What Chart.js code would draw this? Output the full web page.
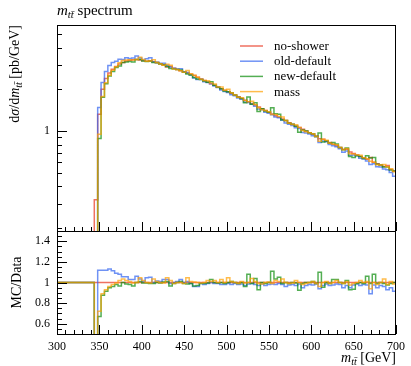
<!DOCTYPE html>
<html>
<head>
<meta charset="utf-8">
<script src="https://cdn.jsdelivr.net/npm/chart.js@4.4.1/dist/chart.umd.min.js"></script>
<style>
  html, body { margin: 0; padding: 0; background: #fff; }
  #c { display: block; }
</style>
</head>
<body>
<canvas id="c" width="411" height="366"></canvas>
<script>
// histogram binning: 4 GeV bins, first filled bin starts at 344 GeV
const xMin = 300, xMax = 700;
const binLo = 344, binW = 4;

const xTickLabels = [300, 350, 400, 450, 500, 550, 600, 650, 700];
const yTickLabels = [1];
const ratioTickLabels = [0.6, 0.8, 1, 1.2, 1.4];

// d sigma / d m_tt [pb/GeV] for the reference (no-shower)
const noShower = [
  0.32, 1.32, 2.0, 2.4, 2.63, 2.8, 2.93, 3.05, 3.12, 3.2,
  3.24, 3.27, 3.28, 3.26, 3.22, 3.19, 3.22, 3.16, 3.11, 3.06,
  3.0, 2.9, 2.93, 2.84, 2.78, 2.73, 2.68, 2.62, 2.57, 2.52,
  2.45, 2.38, 2.32, 2.26, 2.2, 2.14, 2.08, 2.02, 1.97, 1.92,
  1.87, 1.82, 1.77, 1.72, 1.67, 1.63, 1.58, 1.54, 1.49, 1.45,
  1.41, 1.37, 1.33, 1.29, 1.26, 1.22, 1.19, 1.15, 1.12, 1.09,
  1.06, 1.03, 1.0, 0.974, 0.948, 0.922, 0.88, 0.873, 0.849, 0.826,
  0.804, 0.782, 0.761, 0.74, 0.74, 0.705, 0.689, 0.672, 0.656, 0.641,
  0.625, 0.645, 0.596, 0.582, 0.568, 0.555, 0.565, 0.529, 0.516
];

// MC / Data ratios
const oldDefaultRatio = [
  0, 1.12, 1.12, 1.12, 1.13, 1.115, 1.09, 1.08, 1.055, 1.055,
  1.03, 1.03, 1.06, 1.035, 1.01, 1.045, 1.05, 1.0, 1.015, 1.01,
  1.03, 1.03, 0.99, 1.0, 1.01, 1.03, 1.0, 1.01, 0.99, 0.96,
  0.96, 0.99, 0.98, 0.99, 1.0, 0.99, 0.99, 0.98, 0.98, 0.99,
  0.98, 0.99, 0.98, 0.985, 0.97, 0.985, 0.99, 0.98, 0.97, 0.985,
  0.97, 0.98, 0.985, 0.98, 0.99, 0.98, 0.96, 0.975, 0.98, 0.97,
  0.985, 0.95, 0.97, 0.98, 0.975, 0.985, 0.94, 0.97, 0.985, 0.97,
  0.975, 0.985, 0.98, 0.95, 0.97, 0.95, 0.975, 0.985, 0.97, 0.98,
  0.975, 0.89, 0.975, 0.95, 0.97, 0.96, 0.93, 0.95, 0.915
];
const newDefaultRatio = [
  0, 0.67, 0.876, 0.915, 0.95, 0.96, 0.98, 0.965, 1.0, 0.985,
  0.98, 0.965, 1.0, 1.01, 0.995, 0.995, 0.99, 0.99, 1.0, 0.995,
  1.005, 1.01, 0.965, 0.99, 1.0, 1.01, 0.99, 0.985, 0.99, 0.965,
  0.97, 0.99, 0.99, 0.995, 1.03, 1.0, 0.995, 1.0, 0.99, 1.0,
  1.01, 1.0, 0.99, 1.0, 0.96, 1.08, 0.99, 1.04, 0.93, 1.0,
  0.99, 1.0, 1.11, 1.035, 1.05, 0.99, 1.0, 0.99, 1.0, 0.995,
  0.925, 0.99, 1.0, 1.0, 1.01, 0.99, 1.1, 0.955, 1.0, 0.99,
  1.03, 1.03, 1.0, 0.99, 1.02, 0.93, 0.935, 0.99, 1.0, 0.99,
  1.06, 0.99, 1.08, 0.99, 1.0, 0.99, 0.975, 0.99, 1.0
];
const massRatio = [
  0, 0.72, 0.89, 0.93, 0.96, 0.98, 0.995, 1.02, 1.035, 1.02,
  1.01, 0.995, 1.0, 1.045, 1.02, 1.0, 0.995, 1.035, 1.01, 1.0,
  0.995, 1.045, 1.02, 0.99, 1.0, 1.0, 0.99, 1.045, 1.01, 1.005,
  1.0, 0.995, 1.0, 1.02, 1.01, 1.02, 1.0, 1.03, 1.0, 1.045,
  1.01, 1.0, 0.99, 1.01, 0.995, 1.0, 1.04, 1.01, 0.99, 0.985,
  1.0, 1.005, 0.99, 1.02, 1.01, 1.035, 1.0, 0.99, 0.995, 1.02,
  1.0, 0.98, 0.99, 1.0, 1.01, 0.99, 0.96, 1.0, 1.01, 0.99,
  1.0, 1.02, 1.0, 0.99, 1.01, 0.975, 0.99, 1.0, 1.02, 1.0,
  1.01, 0.94, 1.0, 0.98, 1.0, 1.035, 0.98, 1.01, 0.985
];

const FONT = "'Liberation Serif', 'DejaVu Serif', serif";

const series = [
  { label: "no-shower",   color: "rgba(232,52,30,0.7)",  ratio: null,            order: 3 },
  { label: "old-default", color: "rgba(50,100,240,0.7)", ratio: oldDefaultRatio, order: 2 },
  { label: "new-default", color: "rgba(10,140,10,0.7)",  ratio: newDefaultRatio, order: 1 },
  { label: "mass",        color: "rgba(255,160,0,0.7)",  ratio: massRatio,       order: 0 }
];

// step points: each value holds from its bin's low edge to the next one
function topPoints(vals) {
  const pts = [{ x: binLo, y: 1e-3 }];
  vals.forEach((v, i) => pts.push({ x: binLo + i * binW, y: v > 0 ? v : 1e-3 }));
  pts.push({ x: binLo + vals.length * binW, y: vals[vals.length - 1] });
  return pts;
}
function ratioPoints(r) {
  const pts = [{ x: xMin, y: 1 }];
  r.forEach((v, i) => pts.push({ x: binLo + i * binW, y: v }));
  pts.push({ x: binLo + r.length * binW, y: r[r.length - 1] });
  return pts;
}

const datasets = [];
series.forEach(s => {
  const vals = s.ratio ? noShower.map((v, i) => v * s.ratio[i]) : noShower;
  const rat = s.ratio ? s.ratio : noShower.map(() => 1);
  const common = { borderColor: s.color, borderWidth: 1.5, stepped: true, pointRadius: 0,
                   fill: false, tension: 0, order: s.order, clip: 0 };
  datasets.push(Object.assign({ label: s.label, data: topPoints(vals), yAxisID: "y" }, common));
  datasets.push(Object.assign({ label: s.label + " ratio", data: ratioPoints(rat), yAxisID: "yr" }, common));
});

function drawRuns(ctx, parts, x, y, size, align) {
  const fontOf = p => `${p.it ? "italic " : ""}${p.sub ? size * 0.72 : size}px ${FONT}`;
  let total = 0;
  parts.forEach(p => { ctx.font = fontOf(p); p.w = ctx.measureText(p.t).width; total += p.w; });
  let cx = align === "right" ? x - total : align === "center" ? x - total / 2 : x;
  ctx.textAlign = "left";
  ctx.textBaseline = "alphabetic";
  parts.forEach(p => {
    ctx.font = fontOf(p);
    ctx.fillText(p.t, cx, y + (p.sub ? size * 0.22 : 0));
    cx += p.w;
  });
}

const decor = {
  id: "decor",
  afterDraw(chart) {
    const ctx = chart.ctx;
    const xs = chart.scales.x, ys = chart.scales.y, yr = chart.scales.yr;
    ctx.save();
    ctx.strokeStyle = "#000";
    ctx.fillStyle = "#000";
    ctx.lineWidth = 1;
    const seg = (x1, y1, x2, y2) => { ctx.beginPath(); ctx.moveTo(x1, y1); ctx.lineTo(x2, y2); ctx.stroke(); };

    // panel frames
    [ys, yr].forEach(s => ctx.strokeRect(xs.left + 0.5, s.top + 0.5, xs.right - xs.left - 1, s.bottom - s.top));

    // x ticks, pointing inwards from the bottom of each panel
    [ys, yr].forEach(s => xs.ticks.forEach(t => {
      const px = Math.round(xs.getPixelForValue(t.value)) + 0.5;
      seg(px, s.bottom, px, s.bottom - (t.label !== "" ? 9 : 4));
    }));
    // y ticks
    [ys, yr].forEach(s => s.ticks.forEach(t => {
      const py = Math.round(s.getPixelForValue(t.value)) + 0.5;
      seg(xs.left, py, xs.left + (t.label !== "" ? 10 : 5), py);
    }));

    // legend
    series.forEach((s, i) => {
      const ly = 46 + i * 15.2;
      ctx.strokeStyle = s.color;
      ctx.lineWidth = 1.5;
      seg(240, ly, 263, ly);
      ctx.fillStyle = "#000";
      ctx.font = `13px ${FONT}`;
      ctx.textAlign = "left";
      ctx.textBaseline = "alphabetic";
      ctx.fillText(s.label, 274, ly + 4);
    });

    ctx.fillStyle = "#000";
    // title
    drawRuns(ctx, [{ t: "m", it: true }, { t: "tt\u0304", it: true, sub: true }, { t: " spectrum" }], 57, 15, 15, "left");
    // x title
    drawRuns(ctx, [{ t: "m", it: true }, { t: "tt\u0304", it: true, sub: true }, { t: " [GeV]" }], xs.right, 362, 14, "right");
    // y titles
    ctx.save();
    ctx.translate(19, ys.top);
    ctx.rotate(-Math.PI / 2);
    drawRuns(ctx, [{ t: "d" }, { t: "\u03c3", it: true }, { t: "/d" }, { t: "m", it: true },
                   { t: "tt\u0304", it: true, sub: true }, { t: " [pb/GeV]" }], 0, 0, 14, "right");
    ctx.restore();
    ctx.save();
    ctx.translate(21, (yr.top + yr.bottom) / 2);
    ctx.rotate(-Math.PI / 2);
    drawRuns(ctx, [{ t: "MC/Data" }], 0, 0, 14, "center");
    ctx.restore();
    ctx.restore();
  }
};

function minorTicks(lo, hi, step) {
  const out = [];
  for (let k = 0; lo + k * step <= hi + 1e-9; k++) out.push({ value: Math.round((lo + k * step) * 1000) / 1000 });
  return out;
}
const isLabel = (arr, v) => arr.some(a => Math.abs(a - v) < 1e-6);

new Chart(document.getElementById("c"), {
  type: "line",
  data: { datasets },
  options: {
    responsive: false,
    animation: false,
    events: [],
    layout: { padding: { top: 25, right: 9, left: 0, bottom: 0 } },
    plugins: { legend: { display: false }, tooltip: { enabled: false }, title: { display: false } },
    scales: {
      x: {
        type: "linear", min: xMin, max: xMax, position: "bottom",
        grid: { display: false, drawTicks: false }, border: { display: false },
        afterBuildTicks: s => { s.ticks = minorTicks(xMin, xMax, 10); },
        afterFit: s => { s.height = 32; },
        ticks: { autoSkip: false, maxRotation: 0, padding: 6, color: "#000",
                 font: { family: FONT, size: 12 },
                 callback: v => isLabel(xTickLabels, v) ? String(v) : "" }
      },
      yr: {
        type: "linear", min: 0.5, max: 1.5, position: "left", stack: "panels", stackWeight: 1,
        grid: { display: false, drawTicks: false }, border: { display: false },
        afterBuildTicks: s => { s.ticks = minorTicks(0.5, 1.5, 0.05); },
        afterFit: s => { s.width = 57; },
        ticks: { autoSkip: false, padding: 7, color: "#000", font: { family: FONT, size: 12 },
                 callback: v => isLabel(ratioTickLabels, v) ? String(+v.toFixed(1)) : "" }
      },
      y: {
        type: "logarithmic", min: 0.19, max: 5.83, position: "left", stack: "panels", stackWeight: 2,
        grid: { display: false, drawTicks: false }, border: { display: false },
        afterBuildTicks: s => {
          s.ticks = [0.2, 0.3, 0.4, 0.5, 0.6, 0.7, 0.8, 0.9, 1, 2, 3, 4, 5].map(v => ({ value: v }));
        },
        afterFit: s => { s.width = 57; },
        ticks: { autoSkip: false, padding: 7, color: "#000", font: { family: FONT, size: 12 },
                 callback: v => isLabel(yTickLabels, v) ? String(v) : "" }
      }
    }
  },
  plugins: [decor]
});
</script>
</body>
</html>
